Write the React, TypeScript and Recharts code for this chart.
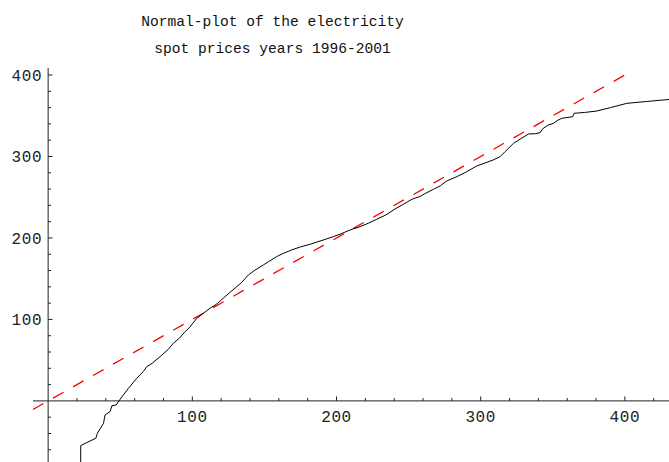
import {
  ComposedChart, Line, XAxis, YAxis, ReferenceLine, ReferenceDot,
} from 'recharts'

// theoretical normal quantiles (scaled) vs. observed spot prices
const quantile = [
  22.6, 22.6, 33.1, 34.2, 36.5, 38.4, 39.5, 43, 44.2, 47.2, 49.9, 55.7, 61.5, 66, 68.4, 72,
  77.7, 83.4, 86.9, 91, 95, 98, 103.1, 108, 112.3, 117, 122.7, 126, 130.8, 134, 138.9, 143,
  149.3, 153, 158.5, 163, 168.9, 175, 181.7, 190, 197.8, 203, 209.4, 215, 222, 228, 234,
  240.6, 246, 252.2, 258, 262, 267.2, 272, 276.4, 283.4, 290, 297.2, 303, 309, 313.5, 316.9,
  322.7, 328, 333.1, 338, 341.2, 343, 347, 350.4, 353, 356.2, 363.8, 364.8, 372, 380.5, 390,
  401.3, 415, 431,
]
const price = [
  -80, -54.8, -45.8, -39.7, -33, -27.4, -17.2, -13, -6, -5, 2, 15.5, 27.8, 36, 42, 46,
  54.4, 63.4, 70.8, 77, 85, 90, 101.4, 108, 113.7, 119, 128, 133, 140.2, 145, 154.6, 160,
  166.9, 171, 177.1, 181, 185.3, 189, 192.3, 197, 201.6, 205, 209.8, 213, 218, 223, 228,
  235.6, 241, 247.4, 251, 255, 259.7, 264, 269.9, 275.2, 281, 288.3, 292, 296, 299.8, 305.9,
  316.1, 322, 327.6, 328, 329.2, 334, 338.7, 340.6, 344, 346.8, 348.8, 353, 354, 355.8, 360,
  365.2, 367.5, 370,
]

// reference line y = x
const refX = [-10.5, 402]
const refY = [-10.5, 402]

const xMajor = [100, 200, 300, 400]
const xMinor = [20, 40, 60, 80, 120, 140, 160, 180, 220, 240, 260, 280, 320, 340, 360, 380, 420]
const yMajor = [100, 200, 300, 400]
const yMinor = [-60, -40, -20, 20, 40, 60, 80, 120, 140, 160, 180, 220, 240, 260, 280, 320, 340, 360, 380]

const curve = quantile.map((x, i) => ({ x, y: price[i] }))
const refLine = refX.map((x, i) => ({ x, y: refY[i] }))

const MONO = '"Liberation Mono", "DejaVu Sans Mono", monospace'
const AX = '#222'
const tickFont = { fontFamily: MONO, fontSize: 16, fill: '#222', letterSpacing: 0.6 }

export default function App() {
  return (
    <div style={{ position: 'fixed', left: 0, top: 0, width: 669, height: 462, background: '#fff' }}>
      <div
        style={{
          position: 'absolute', left: 0, top: 8.6, width: 545, textAlign: 'center',
          fontFamily: MONO, fontSize: 14.6, lineHeight: '27px', color: '#111', whiteSpace: 'pre',
        }}
      >
        {'Normal-plot of the electricity\nspot prices years 1996-2001'}
      </div>
      <ComposedChart width={669} height={462} margin={{ top: 68, left: 33, right: 0, bottom: 0 }}>
        <XAxis type="number" dataKey="x" domain={[-10.5, 430.6]} allowDataOverflow hide />
        <YAxis type="number" dataKey="y" domain={[-75, 408.6]} allowDataOverflow hide />

        <ReferenceLine y={0} stroke={AX} strokeWidth={1} />
        <ReferenceLine x={0} stroke={AX} strokeWidth={1} />

        {xMinor.map((v) => (
          <ReferenceLine key={'xm' + v} segment={[{ x: v, y: 0 }, { x: v, y: 3.5 }]} stroke={AX} />
        ))}
        {xMajor.map((v) => (
          <ReferenceLine key={'xM' + v} segment={[{ x: v, y: 0 }, { x: v, y: 5.5 }]} stroke={AX} />
        ))}
        {yMinor.map((v) => (
          <ReferenceLine key={'ym' + v} segment={[{ x: 0, y: v }, { x: 2, y: v }]} stroke={AX} />
        ))}
        {yMajor.map((v) => (
          <ReferenceLine key={'yM' + v} segment={[{ x: 0, y: v }, { x: 3, y: v }]} stroke={AX} />
        ))}

        {xMajor.map((v) => (
          <ReferenceDot
            key={'xl' + v} x={v} y={0} r={0} fill="none" stroke="none"
            label={{ value: String(v), position: 'bottom', offset: 10, style: tickFont }}
          />
        ))}
        {yMajor.map((v) => (
          <ReferenceDot
            key={'yl' + v} x={0} y={v} r={0} fill="none" stroke="none"
            label={{ value: String(v), position: 'left', offset: 6, style: tickFont }}
          />
        ))}

        <Line
          data={refLine} dataKey="y" stroke="#ff0000" strokeWidth={1.3}
          strokeDasharray="12 11" dot={false} isAnimationActive={false}
        />
        <Line
          data={curve} dataKey="y" stroke="#000" strokeWidth={1}
          dot={false} isAnimationActive={false}
        />
      </ComposedChart>
    </div>
  )
}
